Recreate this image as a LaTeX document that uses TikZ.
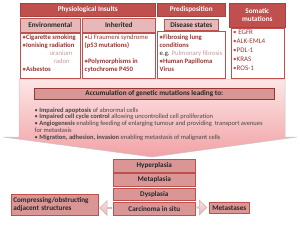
\documentclass[tikz,border=0pt]{standalone}
\usepackage{fontspec}
\setmainfont{Carlito}
\usetikzlibrary{shapes.arrows}
\definecolor{hdr}{HTML}{C0504D}
\definecolor{subf}{HTML}{E6B9B8}
\definecolor{rose}{HTML}{D99694}
\definecolor{dred}{HTML}{953735}
\definecolor{lite}{HTML}{C89A9A}
\definecolor{txt}{HTML}{262626}
\definecolor{arrtop}{HTML}{FCE6E6}
\definecolor{arrbot}{HTML}{F2A2A6}
\begin{document}
\begin{tikzpicture}[x=1pt,y=-1pt,
  hdrbox/.style={draw=hdr!85!black, fill=hdr, line width=0.6pt, anchor=north west, inner sep=0pt,
     text=white, font=\fontsize{7.2}{8}\selectfont\bfseries, align=center},
  subbox/.style={draw=hdr, fill=subf, line width=0.6pt, anchor=north west, inner sep=0pt,
     text=txt, font=\fontsize{7.2}{8}\selectfont\bfseries},
  contbox/.style={draw=hdr, fill=white, line width=0.6pt, anchor=north west, inner sep=0pt},
  conttext/.style={anchor=north west, inner sep=0pt, align=left, text=dred,
     font=\fontsize{6.7}{8}\selectfont\bfseries},
  stackbox/.style={draw=hdr, fill=rose, line width=0.6pt, anchor=north west, inner sep=0pt,
     text=txt, font=\fontsize{7.2}{8.5}\selectfont\bfseries},
  smallarrow/.style={single arrow, draw=subf!80!gray, top color=white!60!subf, bottom color=subf,
     line width=0.5pt, inner sep=0pt, single arrow head extend=2.5pt}
]
\useasboundingbox (0,0) rectangle (300,225);

% big downward arrow
\path[draw=gray!45, line width=0.5pt, top color=arrtop, bottom color=arrbot]
  (19,79) -- (285,79) -- (285,137) -- (297,137) -- (152,157) -- (3,137) -- (19,137) -- cycle;

% headers
\node[hdrbox, minimum width=135pt, minimum height=13pt] (phys) at (20,3) {Physiological Insults};
\node[subbox, minimum width=60pt, minimum height=14pt] (env) at (20,18) {Environmental};
\node[subbox, minimum width=73pt, minimum height=14pt] (inh) at (82,18) {Inherited};
\node[hdrbox, minimum width=68pt, minimum height=13pt] (pre) at (157,3) {Predisposition};
\node[subbox, minimum width=54pt, minimum height=11pt] (dis) at (164,19) {Disease states};
\node[hdrbox, minimum width=56pt, minimum height=24pt] (som) at (229,3) {Somatic\\mutations};

% content boxes
\node[contbox, minimum width=60pt, minimum height=45pt] (envc) at (20,33) {};
\node[contbox, minimum width=73pt, minimum height=45pt] (inhc) at (82,33) {};
\node[contbox, minimum width=68pt, minimum height=47pt] (disc) at (157,31) {};
\node[contbox, minimum width=53pt, minimum height=50pt] (somc) at (231,28) {};

\node[conttext] (envt) at (22.5,35) {%
  \textcolor{hdr}{•}Cigarette smoking\\
  \textcolor{hdr}{•}Ionising radiation\\
  \hspace*{27pt}{\mdseries\color{lite}uranium}\\
  \hspace*{31pt}{\mdseries\color{lite}radon}\\
  \textcolor{hdr}{•}Asbestos};
\node[conttext] (inht) at (84.5,35) {%
  {\mdseries\textcolor{hdr}{•}Li Fraumeni syndrome}\\
  (p53 mutations)\\[8pt]
  \textcolor{hdr}{•}Polymorphisms in\\
  cytochrome P450};
\node[conttext] (dist) at (159.5,34.5) {%
  \textcolor{hdr}{•}Fibrosing lung\\
  conditions\\
  {\mdseries\color{txt}e.g. }{\mdseries\color{lite}Pulmonary fibrosis}\\
  \textcolor{hdr}{•}Human Papilloma\\
  Virus};
\node[conttext, font=\fontsize{7}{9.1}\selectfont] (somt) at (233,29.5) {%
  \textcolor{hdr}{•} EGFR\\
  \textcolor{hdr}{•}ALK-EML4\\
  \textcolor{hdr}{•}PDL-1\\
  \textcolor{hdr}{•}KRAS\\
  \textcolor{hdr}{•}ROS-1};

% accumulation header
\node[draw=dred, fill=rose, line width=0.6pt, anchor=north west, inner sep=0pt,
  minimum width=240pt, minimum height=11pt, text=txt, font=\fontsize{7.2}{8}\selectfont\bfseries]
  (acc) at (34,88) {Accumulation of genetic mutations leading to:};

\node[anchor=north west, inner sep=0pt, align=left, text=txt!85,
  font=\fontsize{6.5}{6.7}\selectfont] (list) at (34.5,107.5) {%
  • \textbf{Impaired apoptosis} of abnormal cells\\
  • \textbf{Impaired cell cycle control} allowing uncontrolled cell proliferation\\
  • \textbf{Angiogenesis} enabling feeding of enlarging tumour and providing\ \ transport avenues\\
  for metastasis\\
  • \textbf{Migration, adhesion, invasion} enabling metastasis of malignant cells};

% stages
\node[stackbox, minimum width=82pt, minimum height=12.5pt] (hyp) at (113,159) {Hyperplasia};
\node[stackbox, minimum width=82pt, minimum height=12.5pt] (met) at (113,173) {Metaplasia};
\node[stackbox, minimum width=82pt, minimum height=12.5pt] (dys) at (113,187.5) {Dysplasia};
\node[stackbox, minimum width=82pt, minimum height=12.5pt] (car) at (113,202) {Carcinoma in situ};

\node[stackbox, minimum width=87pt, minimum height=21pt, align=left, text width=83pt]
  (comp) at (11,194) {Compressing/obstructing\\adjacent structures};
\node[stackbox, minimum width=40pt, minimum height=11pt] (mets) at (209,202) {Metastases};

\node[smallarrow, shape border rotate=180, minimum height=12pt, minimum width=15pt] (la) at (106,208) {};
\node[smallarrow, minimum height=10pt, minimum width=15pt] (ra) at (201.5,207.5) {};
\end{tikzpicture}
\end{document}
